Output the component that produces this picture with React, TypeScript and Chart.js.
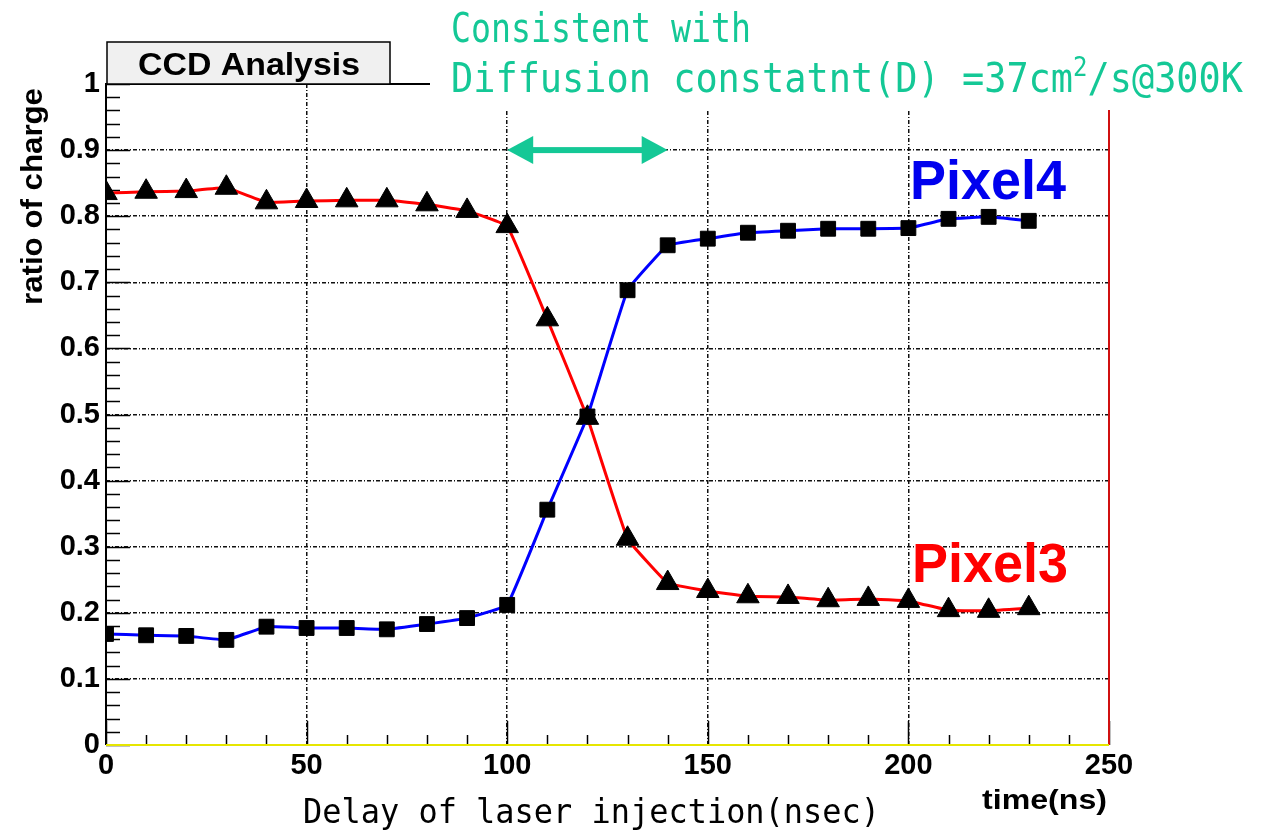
import React, { useEffect, useRef } from "react";
import { Chart, registerables } from "chart.js";

Chart.register(...registerables);

const times = [0, 10, 20, 30, 40, 50, 60, 70, 80, 90, 100, 110, 120, 130, 140, 150, 160, 170, 180, 190, 200, 210, 220, 230];
const pixel3 = [0.835, 0.837, 0.838, 0.843, 0.821, 0.823, 0.824, 0.824, 0.818, 0.808, 0.785, 0.644, 0.495, 0.312, 0.245, 0.233, 0.225, 0.224, 0.219, 0.221, 0.218, 0.204, 0.203, 0.207];
const pixel4 = [0.168, 0.166, 0.165, 0.159, 0.179, 0.177, 0.177, 0.175, 0.183, 0.192, 0.212, 0.356, 0.497, 0.688, 0.756, 0.766, 0.775, 0.778, 0.781, 0.781, 0.782, 0.796, 0.799, 0.793];
const arrowSpan = [100, 140];
const arrowLevel = 0.9;

const TEAL = "#14c896";
const BOLD = "bold 29px 'Liberation Sans', Arial, sans-serif";
const GRID_DASH = [4, 2, 1, 2];

function fitText(ctx: CanvasRenderingContext2D, text: string, x: number, y: number, width: number) {
  const w = ctx.measureText(text).width;
  ctx.save();
  ctx.translate(x, y);
  ctx.scale(width / w, 1);
  ctx.textAlign = "left";
  ctx.fillText(text, 0, 0);
  ctx.restore();
}

const overlay = {
  id: "overlay",
  beforeDatasetsDraw(chart: any) {
    const ctx: CanvasRenderingContext2D = chart.ctx;
    const { left, right, top, bottom } = chart.chartArea;
    const xs = chart.scales.x;
    const ys = chart.scales.y;
    ctx.save();
    ctx.strokeStyle = "#000";
    ctx.lineWidth = 1.5;
    for (let i = 0; i <= 50; i++) {
      const v = i * 0.02;
      const py = Math.round(ys.getPixelForValue(v)) + 0.5;
      const len = i % 5 === 0 ? 24 : 14;
      ctx.beginPath();
      ctx.moveTo(left, py);
      ctx.lineTo(left + len, py);
      ctx.stroke();
    }
    for (let i = 0; i <= 25; i++) {
      const v = i * 10;
      const px = Math.round(xs.getPixelForValue(v)) + 0.5;
      const len = i % 5 === 0 ? 24 : 10;
      ctx.beginPath();
      ctx.moveTo(px, bottom);
      ctx.lineTo(px, bottom - len);
      ctx.stroke();
    }
    ctx.lineWidth = 2;
    ctx.strokeStyle = "#000";
    ctx.beginPath();
    ctx.moveTo(left, bottom);
    ctx.lineTo(left, top);
    ctx.lineTo(430, top);
    ctx.stroke();
    ctx.strokeStyle = "#d01010";
    ctx.beginPath();
    ctx.moveTo(right, 110);
    ctx.lineTo(right, bottom);
    ctx.stroke();
    ctx.strokeStyle = "#e6e600";
    ctx.beginPath();
    ctx.moveTo(left, bottom);
    ctx.lineTo(right, bottom);
    ctx.stroke();
    ctx.restore();
  },
  afterDraw(chart: any) {
    const ctx: CanvasRenderingContext2D = chart.ctx;
    const { right, bottom } = chart.chartArea;
    const xs = chart.scales.x;
    const ys = chart.scales.y;
    ctx.save();
    ctx.fillStyle = "#fff";
    ctx.fillRect(431, 0, 1263 - 431, 110);
    ctx.fillRect(right + 2, 110, 1263 - right - 2, bottom - 110);

    ctx.fillStyle = "#f0f0f0";
    ctx.fillRect(107, 42, 283, 42);
    ctx.strokeStyle = "#000";
    ctx.lineWidth = 1.5;
    ctx.strokeRect(107, 42, 283, 42);
    ctx.fillStyle = "#000";
    ctx.font = "bold 31px 'Liberation Sans', Arial, sans-serif";
    ctx.textBaseline = "alphabetic";
    fitText(ctx, "CCD Analysis", 138, 75, 222);

    ctx.save();
    ctx.font = BOLD;
    ctx.translate(42, 88);
    ctx.rotate(-Math.PI / 2);
    ctx.textAlign = "right";
    ctx.textBaseline = "alphabetic";
    const yt = "ratio of charge";
    const ytw = ctx.measureText(yt).width;
    ctx.scale(217 / ytw, 1);
    ctx.fillText(yt, 0, 0);
    ctx.restore();

    ctx.font = "bold 28px 'Liberation Sans', Arial, sans-serif";
    ctx.fillStyle = "#000";
    fitText(ctx, "time(ns)", 982, 809, 125);

    ctx.font = "bold 55px 'Liberation Sans', Arial, sans-serif";
    ctx.fillStyle = "#0000ee";
    fitText(ctx, "Pixel4", 910, 199, 156);
    ctx.fillStyle = "#ff0000";
    fitText(ctx, "Pixel3", 912, 582, 156);

    ctx.fillStyle = TEAL;
    ctx.font = "40px 'DejaVu Sans Mono', monospace";
    fitText(ctx, "Consistent with", 451, 42, 300);
    const p1 = "Diffusion constatnt(D) =37cm";
    const p2 = "2";
    const p3 = "/s@300K";
    const big = "40px 'DejaVu Sans Mono', monospace";
    const small = "26px 'DejaVu Sans Mono', monospace";
    ctx.font = big;
    const w1 = ctx.measureText(p1).width;
    const w3 = ctx.measureText(p3).width;
    ctx.font = small;
    const w2 = ctx.measureText(p2).width;
    const s = 792 / (w1 + w2 + w3);
    ctx.save();
    ctx.translate(451, 92);
    ctx.scale(s, 1);
    ctx.font = big;
    ctx.fillText(p1, 0, 0);
    ctx.font = small;
    ctx.fillText(p2, w1, -16);
    ctx.font = big;
    ctx.fillText(p3, w1 + w2, 0);
    ctx.restore();

    const ax1 = xs.getPixelForValue(arrowSpan[0]);
    const ax2 = xs.getPixelForValue(arrowSpan[1]);
    const ay = ys.getPixelForValue(arrowLevel);
    const hl = 26;
    const hh = 14;
    ctx.fillStyle = TEAL;
    ctx.fillRect(ax1 + hl - 2, ay - 3, ax2 - ax1 - 2 * hl + 4, 6);
    ctx.beginPath();
    ctx.moveTo(ax1, ay);
    ctx.lineTo(ax1 + hl, ay - hh);
    ctx.lineTo(ax1 + hl, ay + hh);
    ctx.closePath();
    ctx.fill();
    ctx.beginPath();
    ctx.moveTo(ax2, ay);
    ctx.lineTo(ax2 - hl, ay - hh);
    ctx.lineTo(ax2 - hl, ay + hh);
    ctx.closePath();
    ctx.fill();

    ctx.fillStyle = "#000";
    ctx.font = "33px 'DejaVu Sans Mono', monospace";
    fitText(ctx, "Delay of laser injection(nsec)", 303, 823, 577);
    ctx.restore();
  },
};

export default function App() {
  const ref = useRef<HTMLCanvasElement | null>(null);
  useEffect(() => {
    document.body.style.margin = "0";
    const canvas = ref.current!;
    const gridColor = (c: any) => {
      const v = c.tick ? c.tick.value : 0;
      return v === 0 || v === 250 || v === 1 ? "rgba(0,0,0,0)" : "#111";
    };
    const tickFont = { family: "'Liberation Sans', Arial, sans-serif", weight: "bold", size: 29 };
    const chart = new Chart(canvas, {
      type: "line",
      data: {
        datasets: [
          {
            label: "Pixel4",
            data: times.map((t, i) => ({ x: t, y: pixel4[i] })),
            borderColor: "#0000ff",
            borderWidth: 3,
            tension: 0.08,
            pointStyle: "rect",
            pointRadius: 10.5,
            pointBackgroundColor: "#000",
            pointBorderColor: "#000",
            pointBorderWidth: 1,
          },
          {
            label: "Pixel3",
            data: times.map((t, i) => ({ x: t, y: pixel3[i] })),
            borderColor: "#ff0000",
            borderWidth: 3,
            tension: 0.08,
            pointStyle: "triangle",
            pointRadius: 13,
            pointBackgroundColor: "#000",
            pointBorderColor: "#000",
            pointBorderWidth: 1,
          },
        ],
      },
      options: {
        animation: false,
        responsive: false,
        devicePixelRatio: 1,
        layout: { padding: { top: 84, right: 154, left: 0, bottom: 0 } },
        plugins: { legend: { display: false }, tooltip: { enabled: false }, title: { display: false } },
        scales: {
          x: {
            type: "linear",
            min: 0,
            max: 250,
            border: { display: false, dash: GRID_DASH },
            grid: { color: gridColor, lineWidth: 1.5, drawTicks: false },
            ticks: {
              stepSize: 50,
              autoSkip: false,
              maxRotation: 0,
              padding: 4,
              color: "#000",
              font: tickFont,
            },
            afterFit: (s: any) => {
              s.height = 90;
            },
          },
          y: {
            type: "linear",
            min: 0,
            max: 1,
            border: { display: false, dash: GRID_DASH },
            grid: { color: gridColor, lineWidth: 1.5, drawTicks: false },
            ticks: {
              stepSize: 0.1,
              padding: 6,
              color: "#000",
              font: tickFont,
              callback: (v: any) => String(Math.round(Number(v) * 10) / 10),
            },
            afterFit: (s: any) => {
              s.width = 106;
            },
          },
        },
      },
      plugins: [overlay],
    } as any);
    return () => chart.destroy();
  }, []);
  return (
    <div style={{ position: "absolute", left: 0, top: 0, width: 1263, height: 835 }}>
      <canvas ref={ref} width={1263} height={835} style={{ display: "block" }} />
    </div>
  );
}
